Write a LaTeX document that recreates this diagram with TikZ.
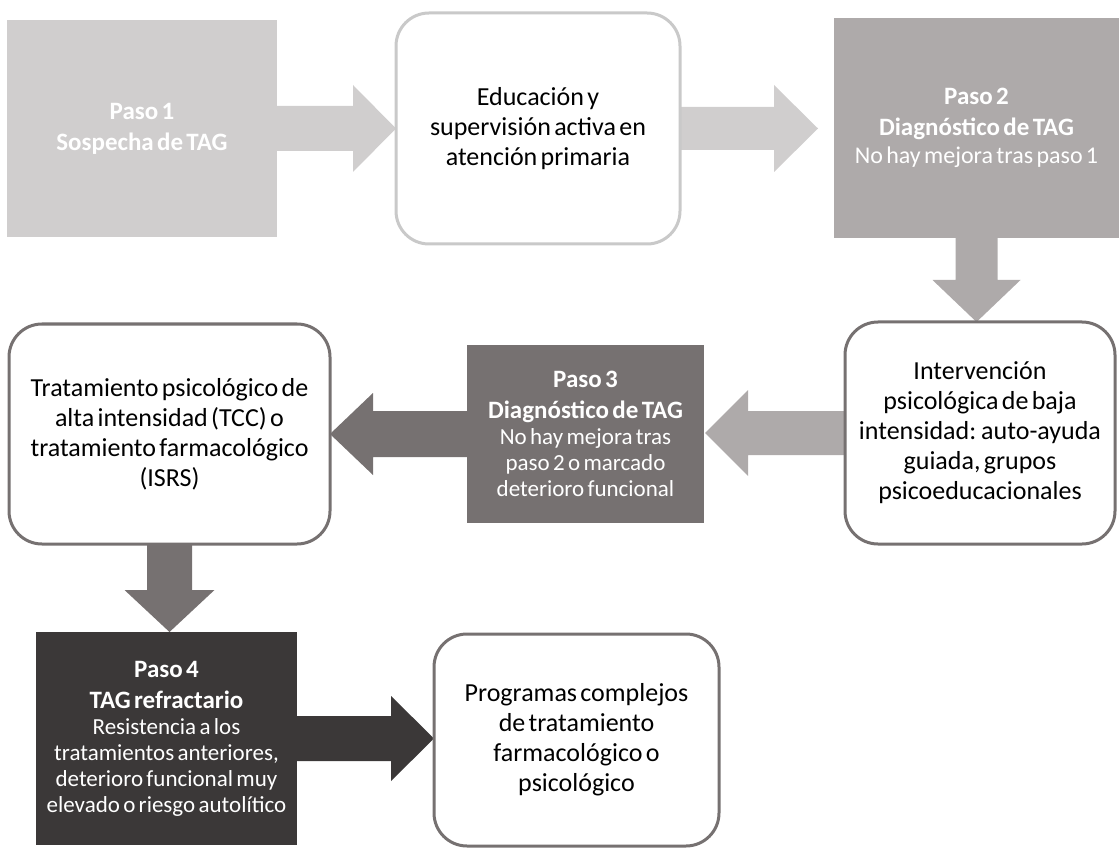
\documentclass[tikz,border=0pt]{standalone}
\usepackage{fontspec}
\setmainfont{Carlito}
\usetikzlibrary{calc,backgrounds}
\definecolor{gA}{HTML}{D0CECE}
\definecolor{gB}{HTML}{AEAAAA}
\definecolor{gC}{HTML}{767171}
\definecolor{gD}{HTML}{3B3838}
\definecolor{edgeA}{HTML}{C9C9C9}
\definecolor{edgeB}{HTML}{767171}
\newcommand\titlefont{\fontsize{25}{31}\selectfont\bfseries}
\newcommand\bodyfont{\fontsize{26}{30}\selectfont}
\newcommand\smallbody{\fontsize{23}{26}\selectfont\mdseries}
% horizontal block arrow: colour, from, tip, half shaft, half head, head length (negative = leftwards)
\newcommand\harrow[6]{%
 \fill[#1] ($(#2)+(0,#4)$) -- ($(#3)+({-(#6)},#4)$) -- ($(#3)+({-(#6)},#5)$) -- (#3)
   -- ($(#3)+({-(#6)},{-(#5)})$) -- ($(#3)+({-(#6)},{-(#4)})$) -- ($(#2)+(0,{-(#4)})$) -- cycle;}
% vertical (downward) block arrow
\newcommand\varrow[6]{%
 \fill[#1] ($(#2)+(#4,0)$) -- ($(#3)+(#4,{-(#6)})$) -- ($(#3)+(#5,{-(#6)})$) -- (#3)
   -- ($(#3)+({-(#5)},{-(#6)})$) -- ($(#3)+({-(#4)},{-(#6)})$) -- ($(#2)+({-(#4)},0)$) -- cycle;}
\tikzset{
  stepbox/.style={rectangle, inner sep=0pt, outer sep=0pt, anchor=north west, align=center, text=white},
  roundbox/.style={rectangle, rounded corners=33pt, draw, line width=3pt, fill=white,
    inner sep=0pt, outer sep=0pt, anchor=north west, align=center, text=black},
}
\begin{document}
\begin{tikzpicture}[x=1pt,y=-1pt]
\useasboundingbox (0,0) rectangle (1119,850);

% nodes
\node[stepbox, fill=gA, text width=270pt, minimum height=217pt] (p1) at (7,20)
  {\titlefont Paso 1\par Sospecha de TAG\par};
\node[roundbox, draw=edgeA, text width=284pt, minimum height=231pt] (edu) at (396,13)
  {\bodyfont Educación y\\ supervisión activa en\\ atención primaria\par};
\node[stepbox, fill=gB, text width=285pt, minimum height=220pt] (p2) at (834,18)
  {\titlefont Paso 2\par Diagnóstico de TAG\par
   {\fontsize{24}{28}\selectfont\mdseries No hay mejora tras paso 1\par}};
\node[roundbox, draw=edgeB, text width=270pt, minimum height=222pt] (int) at (845,322)
  {\bodyfont Intervención\\ psicológica de baja\\ intensidad: auto-ayuda\\ guiada, grupos\\ psicoeducacionales\par};
\node[stepbox, fill=gC, text width=237pt, minimum height=178pt] (p3) at (467,345)
  {\titlefont Paso 3\par Diagnóstico de TAG\par
   {\smallbody No hay mejora tras\\ paso 2 o marcado\\ deterioro funcional\par}};
\node[roundbox, draw=edgeB, text width=321pt, minimum height=220pt] (trt) at (9,324)
  {\bodyfont Tratamiento psicológico de\\ alta intensidad (TCC) o\\ tratamiento farmacológico\\ (ISRS)\par};
\node[stepbox, fill=gD, text width=261pt, minimum height=213pt] (p4) at (36,632)
  {\titlefont Paso 4\par TAG refractario\par
   {\smallbody Resistencia a los\\ tratamientos anteriores,\\ deterioro funcional muy\\ elevado o riesgo autolítico\par}};
\node[roundbox, draw=edgeB, text width=285pt, minimum height=212pt] (prog) at (434,634)
  {\bodyfont Programas complejos\\ de tratamiento\\ farmacológico o\\ psicológico\par};

% connector end points
\coordinate (a1t) at (edu.west|-p1.east);
\coordinate (a2t) at ($(p2.west|-edu.east)+(-16,0)$);
\coordinate (a3t) at (p2.south|-int.north);
\coordinate (a4t) at ($(p3.east|-int.west)+(1,0)$);
\coordinate (a5t) at (trt.east|-p3.west);
\coordinate (a6t) at (trt.south|-p4.north);
\coordinate (a7t) at (prog.west|-p4.east);

\begin{pgfonlayer}{background}
\harrow{gA}{p1.east}{a1t}{22.5}{43.5}{43}
\harrow{gA}{edu.east}{a2t}{21.5}{43.5}{44}
\varrow{gB}{p2.south}{a3t}{21}{44}{42}
\harrow{gB}{int.west}{a4t}{22}{43}{-43}
\harrow{gC}{p3.west}{a5t}{23}{41}{-43}
\varrow{gC}{trt.south}{a6t}{22.5}{45}{42}
\harrow{gD}{p4.east}{a7t}{22.5}{42.5}{43}
\end{pgfonlayer}
\end{tikzpicture}
\end{document}
